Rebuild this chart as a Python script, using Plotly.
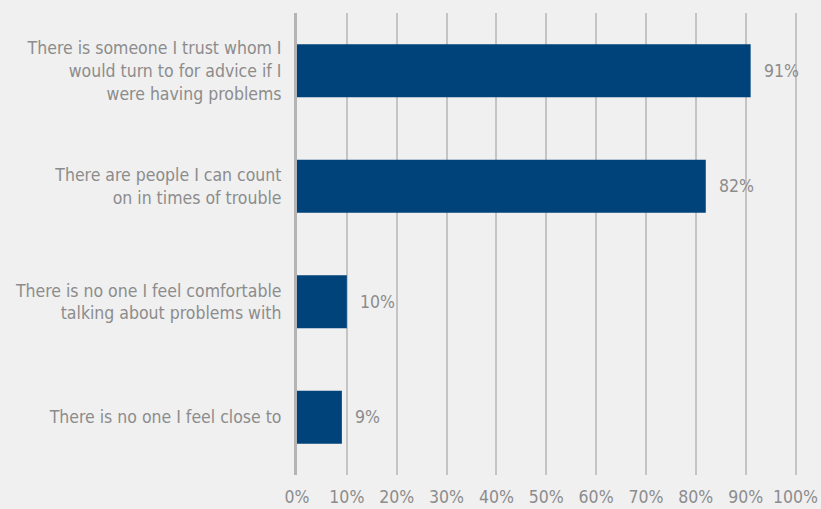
import plotly.graph_objects as go

categories = [
    "There is someone I trust whom I<br>would turn to for advice if I<br>were having problems",
    "There are people I can count<br>on in times of trouble",
    "There is no one I feel comfortable<br>talking about problems with",
    "There is no one I feel close to",
]
values = [91, 82, 10, 9]
tick_vals = [0, 10, 20, 30, 40, 50, 60, 70, 80, 90, 100]
tick_text = [f"{v}%" for v in tick_vals]

BG = "#f0f0f0"
BAR = "#00427a"
TEXT = "#8c8c8c"
GRID = "#c4c4c4"
FONT = "DejaVu Sans Condensed, sans-serif"
FS = 17.5

fig = go.Figure(
    go.Bar(
        x=values,
        y=categories,
        orientation="h",
        marker=dict(color=BAR, line=dict(width=0)),
        width=0.46,
        hoverinfo="skip",
    )
)

for c, v in zip(categories, values):
    fig.add_annotation(
        x=v, y=c, text=f"{v}%", showarrow=False,
        xanchor="left", xshift=11,
        font=dict(family=FONT, size=FS, color=TEXT),
    )

fig.update_layout(
    width=821, height=509,
    margin=dict(l=297, r=24, t=13, b=34, autoexpand=False),
    paper_bgcolor=BG, plot_bgcolor=BG,
    font=dict(family=FONT, size=FS, color=TEXT),
    showlegend=False,
)
fig.update_xaxes(
    range=[0, 100.3], tickvals=tick_vals, ticktext=tick_text,
    showgrid=True, gridcolor=GRID, gridwidth=2,
    zeroline=False, showline=False, ticks="", ticklen=0,
    ticklabelstandoff=9, automargin=False,
    tickfont=dict(family=FONT, size=FS, color=TEXT),
    fixedrange=True,
)
fig.update_yaxes(
    autorange="reversed", showgrid=False, zeroline=False,
    showline=True, linecolor="#b4b4b4", linewidth=3,
    ticks="", ticklabelstandoff=9, automargin=False,
    tickfont=dict(family=FONT, size=FS, color=TEXT),
    fixedrange=True,
)

fig.write_html("out.html")
